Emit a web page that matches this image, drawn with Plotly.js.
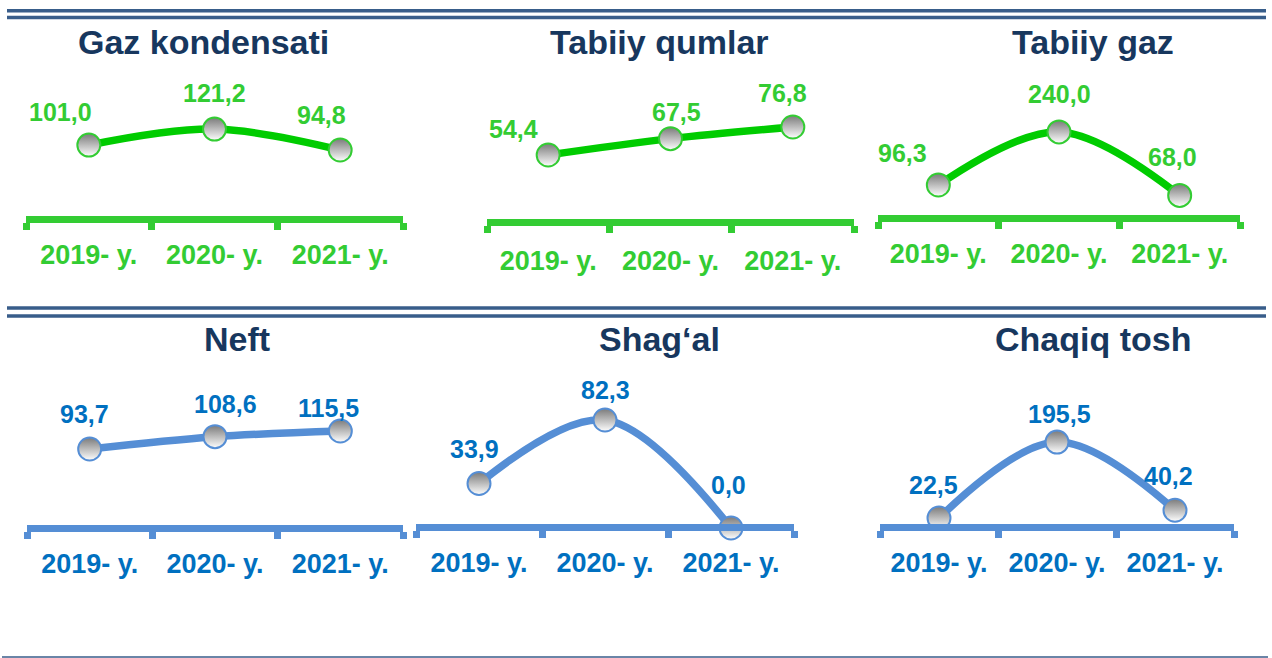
<!DOCTYPE html>
<html>
<head>
<meta charset="utf-8">
<script src="https://cdn.plot.ly/plotly-3.0.1.min.js"></script>
<style>html,body{margin:0;padding:0;background:#fff;}#chart{width:1272px;height:658px;}</style>
</head>
<body>
<div id="chart"></div>
<script>
// ---- data ----
const categories = ['2019- y.', '2020- y.', '2021- y.'];
const titles = ['Gaz kondensati', 'Tabiiy qumlar', 'Tabiiy gaz', 'Neft', 'Shag\u2018al', 'Chaqiq tosh'];
const gazKondensati = [101.0, 121.2, 94.8];
const tabiiyQumlar = [54.4, 67.5, 76.8];
const tabiiyGaz = [96.3, 240.0, 68.0];
const neft = [93.7, 108.6, 115.5];
const shagal = [33.9, 82.3, 0.0];
const chaqiqTosh = [22.5, 195.5, 40.2];
const seriesList = [gazKondensati, tabiiyQumlar, tabiiyGaz, neft, shagal, chaqiqTosh];

// ---- layout / style (pixels) ----
const W = 1272, H = 658;
const GREEN = {line: '#00cc00', axis: '#33cc33', text: '#33cc33'};
const BLUE = {line: '#558ed5', axis: '#558ed5', text: '#0070c0'};
const panels = [
  {x0: 26, x1: 403, lineY: 219, zeroY: 225.4, slope: 0.795, top: 60, col: GREEN, titleX: 203, titleY: 42, std: 9},
  {x0: 487, x1: 854, lineY: 222, zeroY: 223, slope: 1.25, top: 60, col: GREEN, titleX: 659, titleY: 42, std: 12},
  {x0: 878, x1: 1240, lineY: 218, zeroY: 220.5, slope: 0.369, top: 60, col: GREEN, titleX: 1093, titleY: 42, std: 9},
  {x0: 27, x1: 403, lineY: 528, zeroY: 526.4, slope: 0.826, top: 370, col: BLUE, titleX: 237, titleY: 339, std: 9},
  {x0: 416, x1: 794, lineY: 527, zeroY: 528, slope: 1.312, top: 370, col: BLUE, titleX: 659, titleY: 339, std: 9},
  {x0: 880, x1: 1234, lineY: 527, zeroY: 527.9, slope: 0.439, top: 370, col: BLUE, titleX: 1093, titleY: 339, std: 9}
];
// label offsets [dx, dy] in px relative to point (dy negative = up)
const labelOffsets = [
  [[-28, -33], [0, -36], [-19, -35]],
  [[-35, -26], [6, -27], [-10, -34]],
  [[-36, -32], [0, -38], [-7, -38]],
  [[-5, -35], [10, -33], [-12, -23]],
  [[-5, -35], [0, -30], [-3, -43]],
  [[-6, -33], [2, -28], [-7, -34]]
];
const LW = 7;
const FONT = '"Liberation Sans", Arial, sans-serif';

const fmt = v => v.toFixed(1).replace('.', ',');
const px2x = p => p / W;
const px2y = p => 1 - p / H;

const traces = [];
const layout = {
  width: W, height: H,
  margin: {l: 0, r: 0, t: 0, b: 0},
  paper_bgcolor: '#ffffff', plot_bgcolor: 'rgba(0,0,0,0)',
  showlegend: false,
  annotations: [],
  shapes: []
};

panels.forEach((p, i) => {
  const n = i + 1;
  const xa = 'xaxis' + (n === 1 ? '' : n), ya = 'yaxis' + (n === 1 ? '' : n);
  const xr = 'x' + (n === 1 ? '' : n), yr = 'y' + (n === 1 ? '' : n);
  const bottom = p.lineY + 20;
  const rmin = (p.zeroY - bottom) / p.slope;
  const rmax = (p.zeroY - p.top) / p.slope;
  const vals = seriesList[i];

  traces.push({
    type: 'scatter', mode: 'lines+markers',
    x: categories, y: vals, xaxis: xr, yaxis: yr,
    cliponaxis: false, hoverinfo: 'skip',
    line: {color: p.col.line, width: 7.5, shape: 'spline', smoothing: 1},
    marker: {size: 23, color: '#7a7a7a', gradient: {type: 'vertical', color: '#ffffff'},
             line: {color: p.col.axis, width: 2}}
  });

  layout[xa] = {
    domain: [px2x(p.x0), px2x(p.x1)], anchor: 'free', position: px2y(p.lineY),
    type: 'category', range: [-0.5, 2.5], fixedrange: true,
    showline: true, linecolor: p.col.axis, linewidth: LW,
    ticks: 'outside', tickson: 'boundaries', ticklen: 7, tickwidth: 7, tickcolor: p.col.axis,
    ticklabelstandoff: p.std,
    tickfont: {family: FONT, size: 27, color: p.col.text, weight: 'bold'},
    showgrid: false, zeroline: false
  };
  layout[ya] = {
    domain: [px2y(bottom), px2y(p.top)], anchor: xr,
    range: [rmin, rmax], visible: false, fixedrange: true,
    showgrid: false, zeroline: false
  };

  vals.forEach((v, j) => {
    layout.annotations.push({
      x: categories[j], y: v, xref: xr, yref: yr,
      text: fmt(v), showarrow: false, xanchor: 'center', yanchor: 'middle',
      xshift: labelOffsets[i][j][0], yshift: -labelOffsets[i][j][1],
      font: {family: FONT, size: 25, color: p.col.text, weight: 'bold'}
    });
  });

  layout.annotations.push({
    x: px2x(p.titleX), y: px2y(p.titleY), xref: 'paper', yref: 'paper',
    text: titles[i], showarrow: false, xanchor: 'center', yanchor: 'middle',
    font: {family: FONT, size: 34, color: '#17375e', weight: 'bold'}
  });
});

// separator rules
const rule = (x0, x1, y, w) => ({
  type: 'line', xref: 'paper', yref: 'paper',
  x0: px2x(x0), x1: px2x(x1), y0: px2y(y), y1: px2y(y),
  line: {color: '#385d8a', width: w}
});
layout.shapes.push(rule(7, 1266, 10.8, 3.5), rule(7, 1266, 17.5, 3.5));
layout.shapes.push(rule(7, 1266, 308, 3.5), rule(7, 1266, 316, 3.5));
layout.shapes.push(rule(2, 1268, 657, 1.5));

Plotly.newPlot('chart', traces, layout, {displayModeBar: false, staticPlot: true});
</script>
</body>
</html>
